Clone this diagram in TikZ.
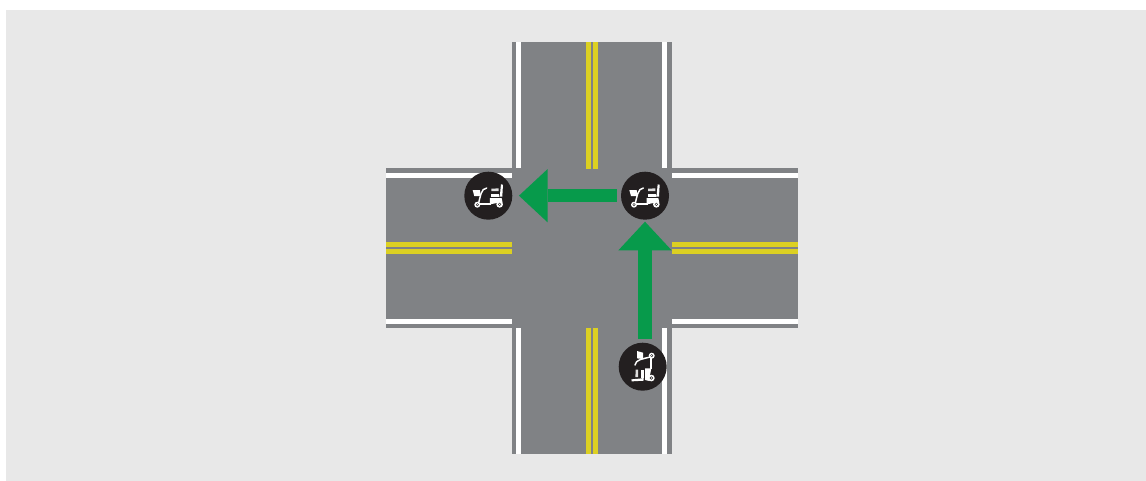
\documentclass[tikz,border=0pt]{standalone}
\usetikzlibrary{arrows.meta}
\definecolor{bgc}{HTML}{E8E8E8}
\definecolor{roadc}{HTML}{808285}
\definecolor{linec}{HTML}{DCD022}
\definecolor{arrowc}{HTML}{079A4B}
\definecolor{discc}{HTML}{231F20}
\tikzset{
  x=0.75pt,y=-0.75pt,
  road/.style={fill=roadc,draw=none},
  yellowline/.style={fill=linec,draw=none},
  whiteline/.style={fill=white,draw=none},
  disc/.style={circle,fill=discc,draw=none,minimum size=36pt,inner sep=0pt,outer sep=0pt},
  blockarrow/.style={draw=arrowc,line width=10pt,
    -{Triangle[length=21.5pt,width=40pt,fill=arrowc,line width=0pt]}},
  scooter/.pic={
    \begin{scope}[scale=0.3333]
      % basket
      \fill[white] (-47,-17) -- (-25,-17) -- (-23,1) -- (-42,1) -- cycle;
      % tiller
      \draw[white,line width=1.1pt,line cap=round] (-29,22) .. controls (-24,4) and (-22,-22) .. (-5,-23);
      % floor and body
      \draw[white,line width=1.4pt] (-27,24) -- (8,24);
      \fill[white] (5,7) -- (40,7) -- (43,21) -- (25,22) -- (5,26) -- cycle;
      % seat
      \fill[white,opacity=.85] (9,-21) -- (31,-22) -- (31,-14) -- (9,-14) -- cycle;
      \fill[white] (9,-5) -- (33,-5) -- (33,3) -- (9,3) -- cycle;
      \fill[white] (38,-34) -- (44,-33) -- (42,3) -- (33,3) -- (35,-3) -- cycle;
      % wheels
      \fill[white] (-33,27) circle (9);
      \fill[discc] (-33,27) circle (4.5);
      \fill[white] (-33,27) circle (2.2);
      \fill[white] (34,26) circle (10);
      \fill[discc] (34,26) circle (5);
      \fill[white] (34,26) circle (2.4);
    \end{scope}
  }
}
\begin{document}
\begin{tikzpicture}
\useasboundingbox (0,0) rectangle (1146,481);
\fill[white] (0,0) rectangle (1146,481);
\fill[bgc] (6,10) rectangle (1146,481);
% road surface
\fill[road] (512,42) rectangle (672,454);
\fill[road] (386,168) rectangle (798,328);
% white edge lines, vertical arms
\fill[whiteline] (516,42) rectangle (521,168);
\fill[whiteline] (662,42) rectangle (667,168);
\fill[whiteline] (516,328) rectangle (521,454);
\fill[whiteline] (662,328) rectangle (667,454);
% white edge lines, horizontal arms
\fill[whiteline] (386,173) rectangle (512,178);
\fill[whiteline] (672,173) rectangle (798,178);
\fill[whiteline] (386,319) rectangle (512,324);
\fill[whiteline] (672,319) rectangle (798,324);
% yellow centre lines
\fill[yellowline] (586,42) rectangle (591,169);
\fill[yellowline] (593,42) rectangle (598,169);
\fill[yellowline] (586,328) rectangle (591,454);
\fill[yellowline] (593,328) rectangle (598,454);
\fill[yellowline] (386,242) rectangle (512,247);
\fill[yellowline] (386,249) rectangle (512,254);
\fill[yellowline] (672,242) rectangle (798,247);
\fill[yellowline] (672,249) rectangle (798,254);
% discs
\node[disc] (left) at (488.3,195.7) {};
\node[disc] (mid) at (645,195.7) {};
\node[disc] (bottom) at (642.7,366.7) {};
% arrows
\draw[blockarrow,shorten <=3.2pt,shorten >=5pt] (mid.west) -- (left.east);
\draw[blockarrow,shorten <=2.7pt,shorten >=1.5pt] (mid.south |- bottom.north) -- (mid.south);
% icons
\pic at (left) {scooter};
\pic at (mid) {scooter};
\pic[cm={0,-1,-1,0,(0,0)}] at (bottom) {scooter};
\end{tikzpicture}
\end{document}
